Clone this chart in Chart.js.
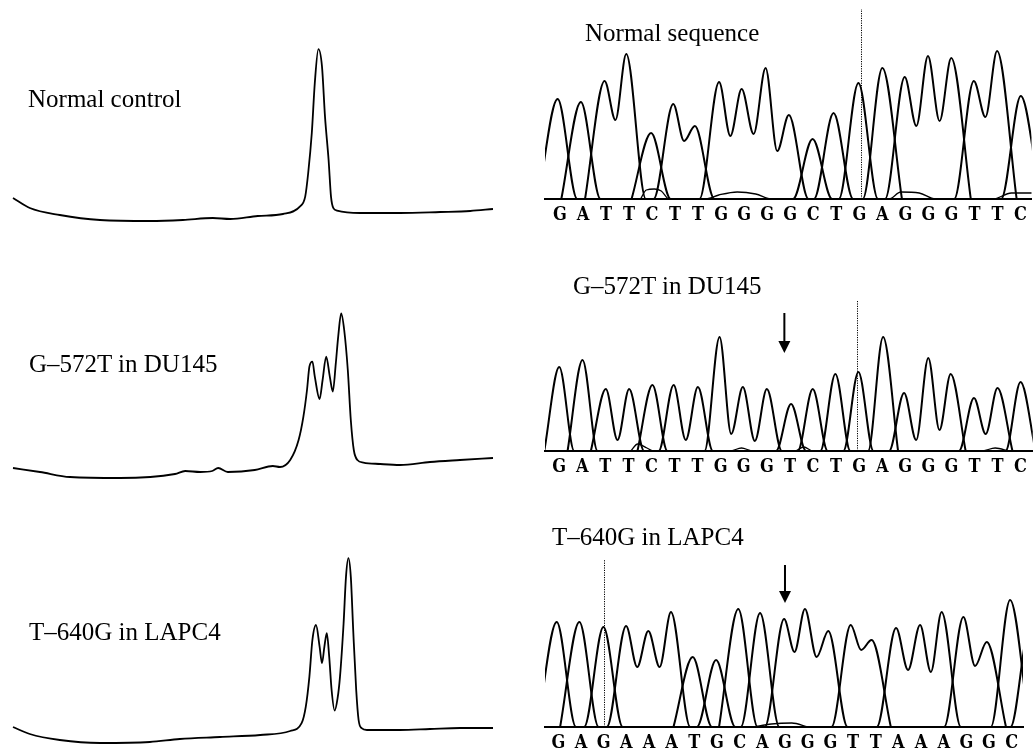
<!DOCTYPE html>
<html>
<head>
<meta charset="utf-8">
<script src="https://cdn.jsdelivr.net/npm/chart.js@4.4.1/dist/chart.umd.min.js"></script>
<style>
  html, body { margin: 0; padding: 0; background: #fff; }
  body { width: 1034px; height: 748px; overflow: hidden; position: relative; }
  canvas { position: absolute; }
  .lbl { position: absolute; font-family: 'Liberation Serif', 'Times New Roman', serif; font-size: 25px; line-height: 25px; color: #000; white-space: nowrap; }
</style>
</head>
<body>
<canvas id="d1" width="520" height="230" style="left:0;top:0"></canvas>
<canvas id="d2" width="520" height="250" style="left:0;top:240px"></canvas>
<canvas id="d3" width="520" height="258" style="left:0;top:490px"></canvas>
<canvas id="c1" width="514" height="231" style="left:520px;top:0"></canvas>
<canvas id="c2" width="514" height="253" style="left:520px;top:230px"></canvas>
<canvas id="c3" width="514" height="269" style="left:520px;top:490px"></canvas>

<div class="lbl" style="left:28px;top:86px">Normal control</div>
<div class="lbl" style="left:29px;top:351px">G–572T in DU145</div>
<div class="lbl" style="left:29px;top:619px">T–640G in LAPC4</div>
<div class="lbl" style="left:585px;top:20px">Normal sequence</div>
<div class="lbl" style="left:573px;top:273px">G–572T in DU145</div>
<div class="lbl" style="left:552px;top:524px">T–640G in LAPC4</div>

<script>
// ---------------- DHPLC elution profiles (time in min, signal in mV) ----------------
const d1Time = [0, 0.28, 0.78, 1.45, 2.28, 2.83, 3.33, 3.62, 4.08, 4.5, 4.78, 4.87, 4.92, 4.98, 5.03, 5.09, 5.15, 5.2, 5.26, 5.3, 5.34, 5.4, 5.78, 6.45, 7.12, 7.62, 8.0];
const d1Signal = [16, 11, 7.5, 5, 4.5, 5, 6, 5.5, 7, 8, 11.7, 16.7, 28.5, 48.5, 73.5, 90.4, 81.7, 56.7, 35, 16.7, 10.9, 9.7, 8.5, 8.5, 9, 9.5, 10.5];

const d2Time = [0, 0.45, 0.95, 1.78, 2.7, 2.87, 3.12, 3.32, 3.42, 3.58, 4.03, 4.33, 4.45, 4.62, 4.76, 4.84, 4.9, 4.94, 4.99, 5.03, 5.11, 5.16, 5.22, 5.28, 5.33, 5.38, 5.42, 5.47, 5.52, 5.58, 5.63, 5.68, 5.74, 5.84, 6.12, 6.45, 6.95, 7.45, 8.0];
const d2Signal = [11, 9, 6.5, 6, 8, 9.5, 9, 9.5, 11, 9, 10, 12, 11.5, 15, 25, 36.7, 50, 61.7, 64.2, 56.7, 45.5, 55, 66.7, 56.7, 49.2, 63.3, 76.7, 88.3, 80, 60, 35, 20, 15, 13.7, 13, 12.5, 14, 15, 16];

const d3Time = [0, 0.28, 0.78, 1.45, 2.28, 2.78, 3.45, 4.12, 4.62, 4.81, 4.88, 4.94, 4.99, 5.05, 5.11, 5.15, 5.19, 5.23, 5.27, 5.31, 5.36, 5.41, 5.45, 5.51, 5.55, 5.59, 5.63, 5.67, 5.72, 5.76, 5.81, 5.9, 6.45, 6.95, 7.45, 8.0];
const d3Signal = [10.5, 7, 4, 2.5, 3, 4.5, 5.5, 6.5, 8.5, 12.4, 20.7, 35.7, 54, 61.5, 50.7, 42.4, 50.7, 57.4, 45.7, 29, 18.7, 24.9, 35.7, 62.4, 85.7, 94.9, 85.7, 59, 29, 14, 9.9, 9, 9, 9.5, 10, 10];

// ---------------- Sequencing chromatograms ----------------
// Normal sequence
const c1Bases = ['G','A','T','T','C','T','T','G','G','G','G','C','T','G','A','G','G','G','T','T','C'];
const c1Channels = c1Bases.slice();
const c1Pos = [-0.10, 0.91, 1.94, 2.88, 3.96, 4.92, 5.86, 6.91, 7.89, 8.93, 9.94, 10.97, 11.88, 12.96, 14.00, 14.97, 15.98, 16.99, 17.97, 18.98, 20.01];
const c1Heights = [100, 97, 118, 145, 66, 95, 73, 117, 110, 131, 84, 60, 86, 116, 131, 122, 143, 141, 118, 148, 103];
const c1Valleys = [null, null, 79, null, null, 58, null, 63, 65, 48, null, null, null, null, null, 73, 78, null, 82, null];
const c1NoiseX = [3.5, 3.75, 4.1, 4.4, 4.75, 6.3, 6.9, 7.7, 8.5, 9.2, 14.3, 14.8, 15.6, 16.3, 18.8, 19.6, 20.5];
const c1NoiseY = [0, 9, 10, 8, 0, 0, 4, 7, 5, 0, 0, 7, 6, 0, 0, 6, 6];
const c1Dotted = [13.06, 190];

// G-572T in DU145
const c2Bases = ['G','A','T','T','C','T','T','G','G','G','T','C','T','G','A','G','G','G','T','T','C'];
const c2Channels = c2Bases.slice();
const c2Pos = [0.00, 1.01, 2.02, 3.03, 4.04, 4.96, 6.01, 6.95, 7.96, 9.00, 10.05, 10.99, 11.97, 12.97, 14.04, 14.95, 16.00, 16.97, 17.98, 19.00, 20.00];
const c2Heights = [84, 91, 62, 62, 66, 66, 64, 114, 64, 62, 47, 62, 77, 79, 114, 58, 93, 77, 53, 63, 69];
const c2Valleys = [null, null, 11, null, null, 11, null, 17, 10, null, null, null, null, null, null, 11, 21, null, 17, null];
const c2NoiseX = [3.1, 3.4, 3.8, 4.1, 7.4, 7.9, 8.4, 10.2, 10.6, 11.0, 18.3, 18.9, 19.5];
const c2NoiseY = [0, 7, 3, 0, 0, 3, 0, 0, 4, 0, 0, 3, 0];
const c2Dotted = [12.93, 150];
const c2Arrow = [9.76, 138, 98];

// T-640G in LAPC4
const c3Bases = ['G','A','G','A','A','A','T','G','C','A','G','G','G','T','T','A','A','A','G','G','C'];
const c3Channels = c3Bases.concat(['A']);
const c3Pos = [-0.07, 0.93, 1.99, 2.99, 3.97, 4.97, 5.93, 6.96, 7.94, 8.90, 9.96, 10.88, 11.91, 12.90, 13.82, 14.90, 15.96, 16.91, 17.87, 18.90, 19.93, 20.80];
const c3Heights = [105, 105, 100, 101, 96, 115, 70, 67, 118, 114, 108, 118, 96, 102, 87, 99, 102, 115, 110, 85, 127, 100];
const c3Valleys = [null, null, null, 60, 60, null, null, null, null, null, 75, 70, null, 77, null, 57, 55, null, 61, null, null];
const c3NoiseX = [8.6, 9.4, 10.3, 11.0];
const c3NoiseY = [0, 3, 4, 0];
const c3Dotted = [2.02, 167];
const c3Arrow = [10.0, 162, 124];

Chart.defaults.animation = false;
Chart.defaults.responsive = false;
Chart.defaults.devicePixelRatio = 1;

function zip(xs, ys) { return xs.map((x, i) => ({ x: x, y: ys[i] })); }

function lineDs(data, width) {
  return { data: data, borderColor: '#000', borderWidth: width, pointRadius: 0, fill: false,
           cubicInterpolationMode: 'monotone' };
}

function elution(id, time, signal, yMax) {
  new Chart(document.getElementById(id), {
    type: 'line',
    data: { datasets: [lineDs(zip(time, signal), 1.8)] },
    options: {
      layout: { padding: 0 },
      plugins: { legend: { display: false }, tooltip: { enabled: false } },
      scales: {
        x: { type: 'linear', display: false, min: -0.2167, max: 8.45 },
        y: { display: false, min: 0, max: yMax }
      }
    }
  });
}

function buildChannels(channels, pos, heights, valleys, half) {
  const byCh = {};
  const order = [];
  channels.forEach((ch, i) => {
    if (!byCh[ch]) { byCh[ch] = []; order.push(ch); }
    const pts = byCh[ch];
    const joinPrev = i > 0 && channels[i - 1] === ch && valleys[i - 1] != null;
    if (joinPrev) pts.push({ x: (pos[i - 1] + pos[i]) / 2, y: valleys[i - 1] });
    else pts.push({ x: pos[i] - half, y: 0 });
    pts.push({ x: pos[i], y: heights[i] });
    const joinNext = i < channels.length - 1 && channels[i + 1] === ch && valleys[i] != null;
    if (!joinNext) pts.push({ x: pos[i] + half, y: 0 });
  });
  return order.map(ch => lineDs(byCh[ch], 2));
}

const seqMarks = {
  id: 'seqMarks',
  afterDatasetsDraw(chart, args, opts) {
    const ctx = chart.ctx, x = chart.scales.x, y = chart.scales.y;
    if (opts.dotted) {
      const px = Math.round(x.getPixelForValue(opts.dotted[0])) + 0.5;
      ctx.save();
      ctx.strokeStyle = '#000'; ctx.lineWidth = 1; ctx.setLineDash([1.2, 1.2]);
      ctx.beginPath();
      ctx.moveTo(px, y.getPixelForValue(0));
      ctx.lineTo(px, y.getPixelForValue(opts.dotted[1]));
      ctx.stroke();
      ctx.restore();
    }
    if (opts.arrow) {
      const px = x.getPixelForValue(opts.arrow[0]);
      const top = y.getPixelForValue(opts.arrow[1]);
      const bot = y.getPixelForValue(opts.arrow[2]);
      ctx.save();
      ctx.fillStyle = '#000';
      ctx.fillRect(px - 1, top, 2, bot - top - 10);
      ctx.beginPath();
      ctx.moveTo(px - 6, bot - 12);
      ctx.lineTo(px + 6, bot - 12);
      ctx.lineTo(px, bot);
      ctx.closePath();
      ctx.fill();
      ctx.restore();
    }
  }
};

function chromatogram(id, bases, channels, pos, heights, valleys, half, noiseX, noiseY, xMin, xMax, yMax, pad, marks) {
  const datasets = buildChannels(channels, pos, heights, valleys, half);
  datasets.push(lineDs(zip(noiseX, noiseY), 1.3));
  new Chart(document.getElementById(id), {
    type: 'line',
    data: { datasets: datasets },
    options: {
      layout: { padding: pad },
      plugins: { legend: { display: false }, tooltip: { enabled: false }, seqMarks: marks },
      scales: {
        x: {
          type: 'linear', min: xMin, max: xMax,
          grid: { display: false, drawTicks: false },
          border: { display: true, color: '#000', width: 2 },
          afterBuildTicks: s => { s.ticks = bases.map((b, i) => ({ value: i })); },
          ticks: {
            autoSkip: false, maxRotation: 0, minRotation: 0, padding: 7, color: '#000',
            font: { family: "'DejaVu Serif Condensed', 'DejaVu Serif', serif", size: 18, weight: 'bold', lineHeight: 1 },
            callback: v => bases[Math.round(v)] || ''
          }
        },
        y: { display: false, min: 0, max: yMax }
      }
    },
    plugins: [seqMarks]
  });
}

elution('d1', d1Time, d1Signal, 115);
elution('d2', d2Time, d2Signal, 125);
elution('d3', d3Time, d3Signal, 129);

chromatogram('c1', c1Bases, c1Channels, c1Pos, c1Heights, c1Valleys, 0.85, c1NoiseX, c1NoiseY,
  -0.648, 20.475, 160, { left: 25, right: 0, top: 39, bottom: 0 }, { dotted: c1Dotted });
chromatogram('c2', c2Bases, c2Channels, c2Pos, c2Heights, c2Valleys, 0.65, c2NoiseX, c2NoiseY,
  -0.618, 20.53, 150, { left: 25, right: 0, top: 71, bottom: 0 }, { dotted: c2Dotted, arrow: c2Arrow });
chromatogram('c3', c3Bases, c3Channels, c3Pos, c3Heights, c3Valleys, 0.85, c3NoiseX, c3NoiseY,
  -0.587, 20.50, 150, { left: 25, right: 11, top: 87, bottom: 0 }, { dotted: c3Dotted, arrow: c3Arrow });
</script>
</body>
</html>
